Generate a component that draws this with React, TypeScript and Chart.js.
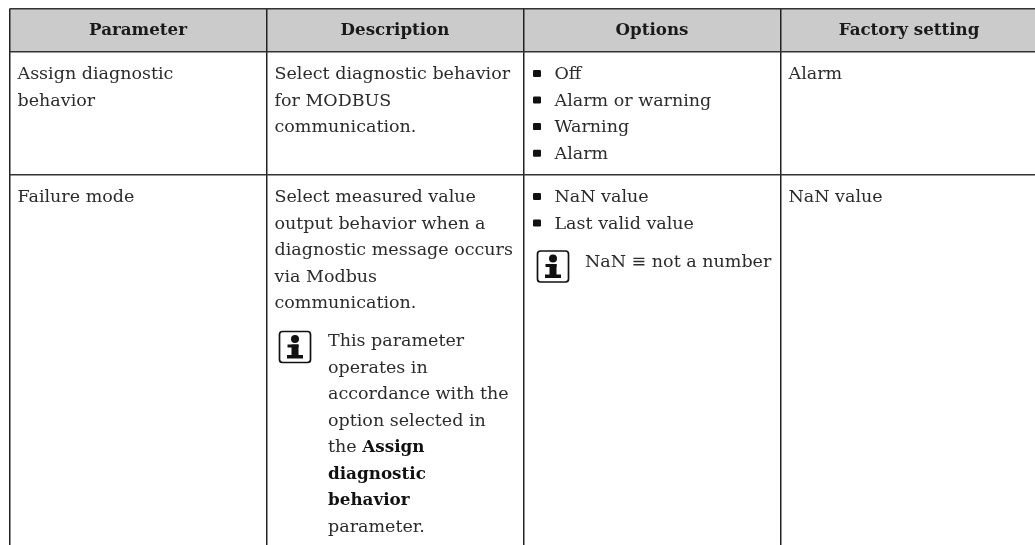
import React, { useEffect, useRef } from "react";
import { Chart, registerables } from "chart.js";

Chart.register(...registerables);

const headers = ["Parameter", "Description", "Options", "Factory setting"];

const parameterRow1 = ["Assign diagnostic", "behavior"];
const descriptionRow1 = ["Select diagnostic behavior", "for MODBUS", "communication."];
const optionsRow1 = ["Off", "Alarm or warning", "Warning", "Alarm"];
const factoryRow1 = ["Alarm"];

const parameterRow2 = ["Failure mode"];
const descriptionRow2 = [
  "Select measured value",
  "output behavior when a",
  "diagnostic message occurs",
  "via Modbus",
  "communication.",
];
const optionsRow2 = ["NaN value", "Last valid value"];
const factoryRow2 = ["NaN value"];
const optionsNote = ["NaN ≡ not a number"];
const descriptionNote = [
  "This parameter",
  "operates in",
  "accordance with the",
  "option selected in",
  "the *Assign*",
  "*diagnostic*",
  "*behavior*",
  "parameter.",
];

const columnEdges = [9.5, 266.5, 523.5, 780.5];
const rowEdges = [8.5, 51.5, 174.5];

const FONT_FAMILY = '"DejaVu Serif"';
const FONT_SIZE = 17.5;
const BOLD_SIZE = 16.8;
const HEADER_SIZE = 16.7;
const INK = "#2b2b2b";
const LINE = 26.55;

const tablePlugin = {
  id: "tablePlugin",
  beforeDraw(chart: any) {
    const { ctx, scales } = chart;
    const x = scales.x;
    const y = scales.y;
    ctx.save();
    ctx.fillStyle = "#cbcbcb";
    ctx.fillRect(x.left, y.getPixelForValue(rowEdges[0]), x.right - x.left, y.getPixelForValue(rowEdges[1]) - y.getPixelForValue(rowEdges[0]));
    ctx.restore();
  },
  afterDraw(chart: any) {
    const { ctx, scales } = chart;
    const px = (v: number) => scales.x.getPixelForValue(v);
    const py = (v: number) => scales.y.getPixelForValue(v);

    const rich = (text: string, xv: number, yv: number) => {
      const parts = text.split("*");
      let cursor = px(xv);
      parts.forEach((part, i) => {
        if (!part) return;
        ctx.font = i % 2 ? `bold ${BOLD_SIZE}px ${FONT_FAMILY}` : `${FONT_SIZE}px ${FONT_FAMILY}`;
        ctx.fillStyle = i % 2 ? "#111" : INK;
        ctx.fillText(part, cursor, py(yv));
        cursor += ctx.measureText(part).width;
      });
    };
    const block = (lines: string[], xv: number, yv: number) =>
      lines.forEach((l, i) => rich(l, xv, yv + i * LINE));

    const bullets = (lines: string[], xv: number, yv: number) =>
      lines.forEach((l, i) => {
        const cy = py(yv + i * LINE - 5.5);
        ctx.fillStyle = "#111";
        ctx.beginPath();
        ctx.roundRect(px(xv), cy - 3.5, 8, 7, 1.2);
        ctx.fill();
        rich(l, xv + 21.5, yv + i * LINE);
      });

    const infoIcon = (xv: number, yv: number) => {
      const l = px(xv);
      const t = py(yv);
      const s = 31;
      const c = l + s / 2;
      ctx.strokeStyle = "#111";
      ctx.lineWidth = 1.7;
      ctx.beginPath();
      ctx.roundRect(l, t, s, s, 3);
      ctx.stroke();
      ctx.fillStyle = "#111";
      ctx.beginPath();
      ctx.arc(c, t + 7.5, 4, 0, Math.PI * 2);
      ctx.fill();
      ctx.fillRect(c - 7.5, t + 13, 11, 3);
      ctx.fillRect(c - 3.5, t + 13, 7, 11);
      ctx.fillRect(c - 8, t + 23.5, 16, 3.5);
    };

    ctx.save();
    ctx.textBaseline = "alphabetic";

    ctx.fillStyle = "#1a1a1a";
    ctx.textAlign = "center";
    headers.forEach((h, i) => {
      ctx.font = `bold ${HEADER_SIZE}px ${FONT_FAMILY}`;
      const next = i + 1 < columnEdges.length ? columnEdges[i + 1] : columnEdges[i] + 257;
      ctx.fillText(h, px((columnEdges[i] + next) / 2), py(35));
    });
    ctx.textAlign = "left";

    const pad = 8;
    const row1 = 79;
    const row2 = 202;
    block(parameterRow1, columnEdges[0] + pad, row1);
    block(descriptionRow1, columnEdges[1] + pad, row1);
    bullets(optionsRow1, columnEdges[2] + pad + 1.5, row1);
    block(factoryRow1, columnEdges[3] + pad, row1);

    block(parameterRow2, columnEdges[0] + pad, row2);
    block(descriptionRow2, columnEdges[1] + pad, row2);
    bullets(optionsRow2, columnEdges[2] + pad + 1.5, row2);
    block(factoryRow2, columnEdges[3] + pad, row2);

    infoIcon(columnEdges[2] + 14, 251);
    block(optionsNote, columnEdges[2] + 61.5, 267);
    infoIcon(columnEdges[1] + 13, 331.5);
    block(descriptionNote, columnEdges[1] + 61.5, 346);

    ctx.restore();
  },
};

export default function App() {
  const ref = useRef<HTMLCanvasElement>(null);
  useEffect(() => {
    document.body.style.margin = "0";
    document.body.style.overflow = "hidden";
    const chart = new Chart(ref.current as HTMLCanvasElement, {
      type: "scatter",
      data: { datasets: [] },
      plugins: [tablePlugin],
      options: {
        animation: false,
        responsive: false,
        layout: { padding: { left: 9.5, top: 8.5, right: 0, bottom: 0 } },
        plugins: { legend: { display: false }, tooltip: { enabled: false }, title: { display: false } },
        scales: {
          x: {
            type: "linear",
            min: 9.5,
            max: 1035,
            afterBuildTicks: (s: any) => {
              s.ticks = columnEdges.map((value) => ({ value }));
            },
            ticks: { display: false },
            border: { display: false },
            grid: { color: "#222", lineWidth: 1.5, drawTicks: false },
          },
          y: {
            type: "linear",
            reverse: true,
            min: 8.5,
            max: 545,
            afterBuildTicks: (s: any) => {
              s.ticks = rowEdges.map((value) => ({ value }));
            },
            ticks: { display: false },
            border: { display: false },
            grid: { color: "#333", lineWidth: 1.5, drawTicks: false },
          },
        },
      },
    } as any);
    return () => chart.destroy();
  }, []);
  return <canvas ref={ref} width={1035} height={545} style={{ display: "block", width: 1035, height: 545 }} />;
}
